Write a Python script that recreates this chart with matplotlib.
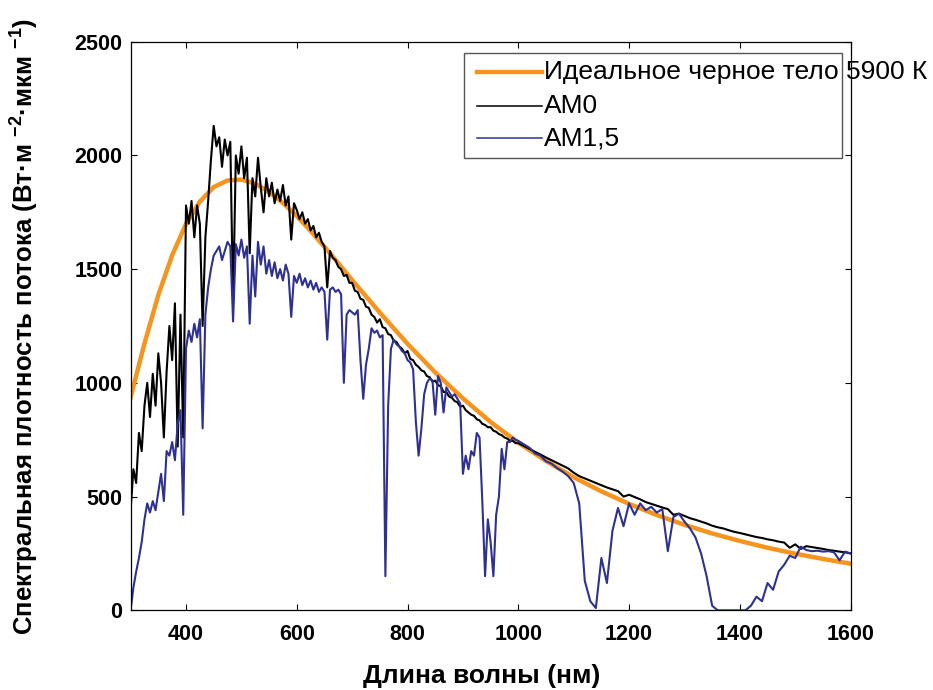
import numpy as np
import matplotlib
matplotlib.use("Agg")
from matplotlib import pyplot as plt
from matplotlib.patches import Rectangle

plt.rcParams['font.family'] = ['Liberation Sans', 'DejaVu Sans']
plt.rcParams['mathtext.fontset'] = 'custom'
plt.rcParams['mathtext.rm'] = 'Liberation Sans:bold'
plt.rcParams['mathtext.bf'] = 'Liberation Sans:bold'
plt.rcParams['mathtext.default'] = 'bf'

# wavelength sampling (nm): 5 nm up to 1000, then 10 nm
wl_fine = np.arange(300, 1000, 5)
wl_coarse = np.arange(1000, 1601, 10)
wavelength = np.concatenate([wl_fine, wl_coarse])

# black body 5900 K
bb_wl = [300, 325, 350, 375, 400, 425, 450, 475, 500, 525, 550, 575, 600, 625, 650, 675, 700,
         750, 800, 850, 900, 950, 1000, 1050, 1100, 1150, 1200, 1250, 1300, 1350, 1400,
         1450, 1500, 1550, 1600]
bb_flux = [937, 1173, 1386, 1561, 1699, 1797, 1861, 1890, 1894, 1876, 1840, 1791, 1734, 1668, 1598, 1526, 1452,
           1309, 1172, 1046, 932, 828, 737, 657, 585, 523, 468, 419, 376, 338, 305,
           275, 249, 226, 205]

am0 = [440, 620, 560, 780, 700, 900, 1000, 850, 1040, 900,       # 300-345
       1130, 1000, 760, 1050, 1250, 1100, 1350, 720, 1300, 760,   # 350-395
       1780, 1700, 1800, 1640, 1780, 1700, 1250, 1640, 1800, 1980,
       2130, 2040, 2080, 1950, 2070, 2000, 2060, 1350, 2000, 1920,
       2040, 1900, 1990, 1570, 1900, 1820, 1990, 1860, 1750, 1900,
       1820, 1880, 1790, 1850, 1800, 1870, 1780, 1820, 1630, 1790,
       1760, 1720, 1750, 1700, 1720, 1670, 1690, 1640, 1660, 1620,
       1600, 1420, 1580, 1550, 1540, 1510, 1500, 1470, 1475, 1440,
       1440, 1405, 1400, 1370, 1365, 1335, 1330, 1300, 1290, 1265,
       1280, 1245, 1240, 1215, 1210, 1185, 1180, 1160, 1150, 1130,
       1140, 1105, 1100, 1080, 1070, 1055, 1050, 1030, 1025, 1005,
       1010, 990, 985, 960, 960, 940, 935, 920, 915, 895,
       900, 880, 870, 860, 855, 840, 835, 820, 815, 805,
       805, 790, 785, 775, 770, 760, 755, 745, 745, 735,         # 950-995
       735, 722, 710, 697, 685, 672, 660, 648, 636, 624,         # 1000-1090
       605, 590, 580, 570, 560, 550, 540, 532, 524, 500,
       508, 498, 488, 476, 468, 460, 452, 445, 420, 425,
       415, 405, 398, 390, 382, 372, 365, 360, 352, 345,
       340, 334, 328, 322, 318, 312, 308, 302, 298, 275,
       290, 270, 282, 278, 274, 270, 265, 262, 258, 255,
       250]

am15 = [0, 100, 170, 230, 300, 400, 470, 430, 480, 440,          # 300-345
        520, 600, 480, 700, 680, 740, 660, 820, 880, 420,
        1150, 1230, 1180, 1260, 1200, 1280, 800, 1300, 1420, 1500,
        1560, 1580, 1600, 1540, 1580, 1620, 1600, 1270, 1610, 1560,
        1630, 1550, 1600, 1260, 1560, 1380, 1620, 1520, 1600, 1480,
        1540, 1470, 1530, 1460, 1500, 1450, 1520, 1480, 1290, 1470,
        1440, 1480, 1430, 1460, 1420, 1450, 1410, 1440, 1400, 1420,
        1400, 1190, 1410, 1420, 1400, 1410, 1390, 1000, 1300, 1320,
        1310, 1300, 1320, 1100, 930, 1080, 1150, 1240, 1220, 1230,
        1200, 1210, 150, 900, 1150, 1190, 1170, 1160, 1140, 1130,
        1100, 1090, 1060, 830, 680, 800, 950, 1000, 1020, 1010,
        860, 1030, 1000, 870, 980, 960, 940, 950, 930, 910,
        600, 680, 620, 700, 680, 780, 760, 480, 150, 400,
        300, 150, 420, 500, 710, 620, 740, 740, 760, 750,         # 950-995
        745, 730, 715, 690, 680, 655, 645, 625, 610, 590,         # 1000-1090
        560, 470, 130, 40, 10, 230, 120, 350, 450, 370,
        470, 420, 470, 440, 455, 430, 445, 260, 410, 425,
        390, 360, 320, 250, 150, 20, 0, 0, 0, 0,
        0, 0, 20, 60, 40, 120, 90, 170, 200, 240,
        230, 280, 265, 260, 262, 258, 260, 255, 220, 258,
        250]

labels = ["Идеальное черное тело 5900 К", "AM0", "AM1,5"]
colors = ["#F7941D", "#000000", "#2E3192"]
widths = [3.2, 1.5, 1.5]
legend_widths = [3.2, 1.1, 1.1]

fig = plt.figure(figsize=(9.33, 6.9), dpi=100)
ax = fig.add_axes([0.140, 0.1155, 0.7717, 0.824])

ax.plot(bb_wl, bb_flux, color=colors[0], lw=widths[0])
ax.plot(wavelength, am0, color=colors[1], lw=widths[1])
ax.plot(wavelength, am15, color=colors[2], lw=widths[2])

ax.set_xlim(300, 1600)
ax.set_ylim(0, 2500)
ax.set_xticks([400, 600, 800, 1000, 1200, 1400, 1600])
ax.set_yticks([0, 500, 1000, 1500, 2000, 2500])
ax.tick_params(direction="in", top=True, right=True, length=4, width=0.8)
ax.tick_params(axis="x", pad=10)
ax.tick_params(axis="y", pad=6)
for lab in ax.get_xticklabels() + ax.get_yticklabels():
    lab.set_fontsize(15.5)
    lab.set_fontweight("bold")
for sp in ax.spines.values():
    sp.set_linewidth(0.9)

ax.set_xlabel("Длина волны (нм)", fontsize=19, fontweight="bold")
ax.xaxis.set_label_coords(0.487, -0.094)
ax.set_ylabel("Спектральная плотность потока (Вт·м $^{-2}$·мкм $^{-1}$)",
              fontsize=18.5, fontweight="bold")
ax.yaxis.set_label_coords(-0.125, 0.5)

# legend drawn by hand: text runs past the frame as in the original
ax.add_patch(Rectangle((0.463, 0.795), 0.525, 0.186, transform=ax.transAxes,
                       facecolor="white", edgecolor="#555555", lw=1.0, zorder=5))
rows = [0.946, 0.8875, 0.830]
for lab, c, w, yy in zip(labels, colors, legend_widths, rows):
    ax.plot([0.481, 0.571], [yy, yy], transform=ax.transAxes, color=c,
            lw=w, zorder=6, clip_on=False)
    ax.text(0.5745, yy, lab, transform=ax.transAxes, fontsize=19,
            va="center", ha="left", zorder=7)

fig.savefig("out.png", dpi=100)
